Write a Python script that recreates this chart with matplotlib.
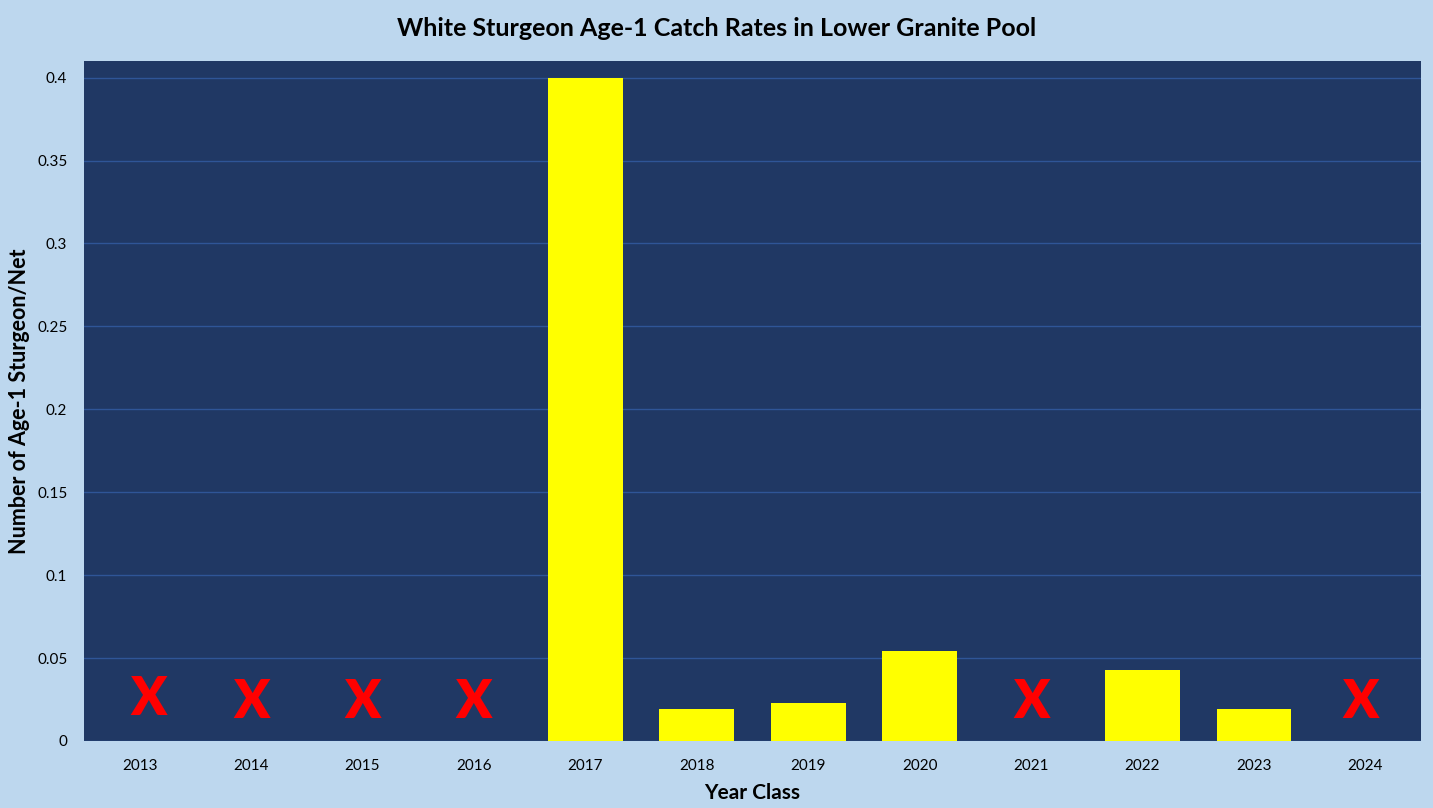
import matplotlib
matplotlib.use("Agg")
import matplotlib.pyplot as plt
import numpy as np

# ---- data ----
years = ["2013", "2014", "2015", "2016", "2017", "2018",
         "2019", "2020", "2021", "2022", "2023", "2024"]
catch_rate = [0, 0, 0, 0, 0.40, 0.019, 0.023, 0.054, 0, 0.043, 0.019, 0]
# years without sampling, marked with a red X
no_data_years = ["2013", "2014", "2015", "2016", "2021", "2024"]
no_data_marker_y = [0.025, 0.023, 0.023, 0.023, 0.023, 0.023]
no_data_marker_dx = [0.08, 0.0, 0.0, 0.0, 0.0, -0.04]
y_ticks = [0, 0.05, 0.1, 0.15, 0.2, 0.25, 0.3, 0.35, 0.4]
y_tick_labels = ["0", "0.05", "0.1", "0.15", "0.2", "0.25", "0.3", "0.35", "0.4"]

title = "White Sturgeon Age-1 Catch Rates in Lower Granite Pool"
x_label = "Year Class"
y_label = "Number of Age-1 Sturgeon/Net"

# ---- style ----
bg = "#BDD7EE"
plot_bg = "#203864"
grid_c = "#2F5597"
bar_c = "#FFFF00"
font = ["Lato", "DejaVu Sans"]
plt.rcParams["font.family"] = font

fig = plt.figure(figsize=(14.33, 8.08), dpi=100, facecolor=bg)
ax = fig.add_axes([84/1433, 67/808, (1421-84)/1433, (741-61)/808])
ax.set_facecolor(plot_bg)

x = np.arange(len(years))
ax.bar(x, catch_rate, width=0.67, color=bar_c, zorder=3)

for yr, yv, dx in zip(no_data_years, no_data_marker_y, no_data_marker_dx):
    i = years.index(yr)
    ax.text(i + dx, yv, "X", color="#FF0000", fontsize=38, fontweight="heavy",
            ha="center", va="center", zorder=4)

ax.set_xlim(-0.5, len(years) - 0.5)
ax.set_ylim(0, 0.41)
ax.set_yticks(y_ticks)
ax.set_yticklabels(y_tick_labels)
ax.set_xticks(x)
ax.set_xticklabels(years)
ax.tick_params(axis="both", length=0, labelsize=11, colors="black")
ax.tick_params(axis="x", pad=13)
ax.yaxis.set_tick_params(pad=12)
ax.grid(axis="y", color=grid_c, linewidth=1, zorder=1)
for s in ax.spines.values():
    s.set_visible(False)

ax.set_xlabel(x_label, fontsize=15, fontweight="bold", labelpad=7)
ax.set_ylabel(y_label, fontsize=15.5, fontweight="bold", labelpad=5)
fig.text(0.5, 1 - 28/808, title, ha="center", va="center",
         fontsize=18, fontweight="bold")

fig.savefig("out.png", dpi=100, facecolor=bg)
